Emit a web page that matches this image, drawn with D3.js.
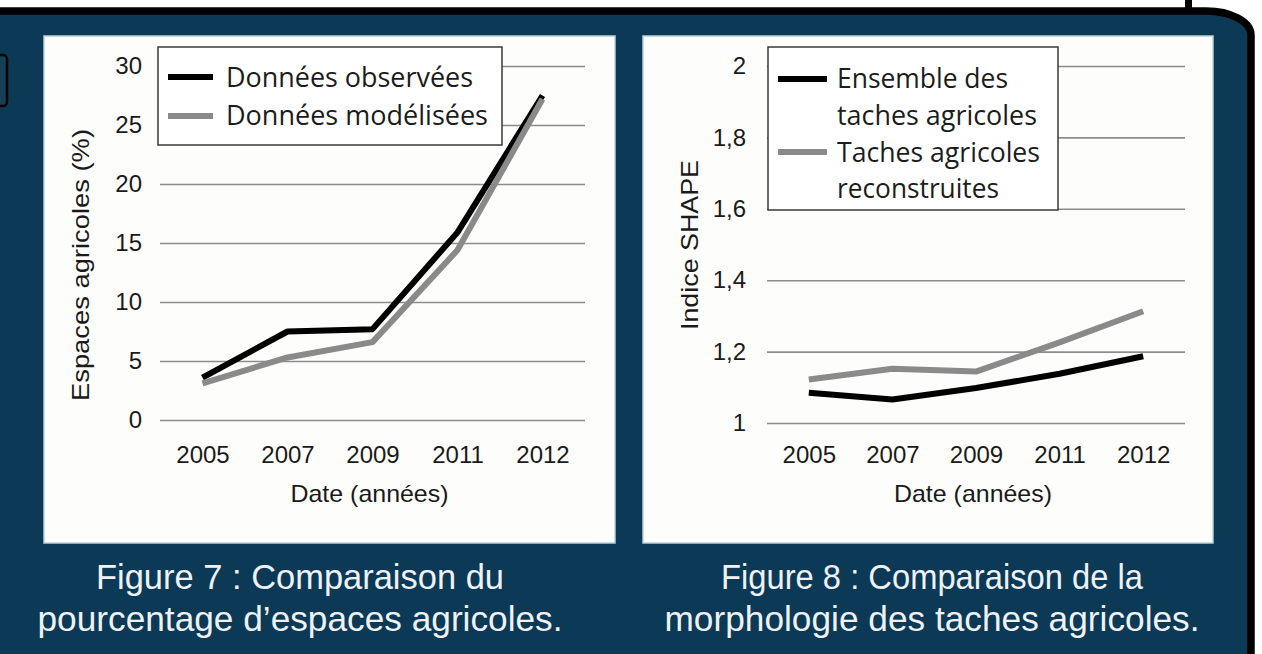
<!DOCTYPE html>
<html>
<head>
<meta charset="utf-8">
<script src="https://cdn.jsdelivr.net/npm/d3@7"></script>
<style>
  html, body { margin: 0; padding: 0; background: #ffffff; }
  svg { display: block; }
</style>
</head>
<body>
<svg id="fig" width="1262" height="654"></svg>
<script>
// Years shown on both charts
const years = ["2005", "2007", "2009", "2011", "2012"];

// Figure 7: share of agricultural land (%)
const observed = [3.6, 7.5, 7.7, 15.9, 27.5];
const modeled  = [3.1, 5.3, 6.6, 14.4, 27.2];
const pctTicks = [0, 5, 10, 15, 20, 25, 30];

// Figure 8: SHAPE index of agricultural patches
const allPatches     = [1.085, 1.066, 1.098, 1.138, 1.187];
const rebuiltPatches = [1.122, 1.152, 1.144, 1.226, 1.313];
const shapeTicks = [1, 1.2, 1.4, 1.6, 1.8, 2];

const svg = d3.select("#fig");
const NAVY = "#0b3956";
const AXIS_FONT = "'Liberation Sans', Arial, sans-serif";
const TEXT_FONT = "'Open Sans', 'Noto Sans', sans-serif";
const CAPTION_FONT = "'Liberation Sans', Arial, sans-serif";

// ---- Frame: navy board with black outline and rounded top-right corner
svg.append("rect").attr("x", 1185).attr("y", -2).attr("width", 7).attr("height", 13).attr("fill", "#000");
svg.append("path")
  .attr("d", "M -10 11 H 1206 A 45 24 0 0 1 1251 35 V 670 H -10 Z")
  .attr("fill", NAVY)
  .attr("stroke", "#000")
  .attr("stroke-width", 7.5);
// partial box at the left edge
svg.append("rect")
  .attr("x", -12).attr("y", 55).attr("width", 19).attr("height", 51).attr("rx", 4)
  .attr("fill", "#163f58").attr("stroke", "#050505").attr("stroke-width", 2.5);

// ---- One chart panel
function drawPanel(cfg) {
  const g = svg.append("g");
  g.append("rect")
    .attr("x", cfg.panel[0]).attr("y", cfg.panel[1])
    .attr("width", cfg.panel[2]).attr("height", cfg.panel[3])
    .attr("fill", "#fdfdfb").attr("stroke", "#b9cfdc").attr("stroke-width", 1.5);

  const x = d3.scalePoint().domain(years).range(cfg.xRange).padding(0.5);
  const y = d3.scaleLinear().domain(cfg.yDomain).range(cfg.yRange);
  const gridW = cfg.xRange[1] - cfg.xRange[0];

  // y axis with horizontal gridlines
  const yAxis = g.append("g")
    .attr("transform", `translate(${cfg.xRange[0]},0)`)
    .call(d3.axisLeft(y).tickValues(cfg.yTicks).tickSize(-gridW)
      .tickPadding(cfg.yPad).tickFormat(cfg.yFormat));
  yAxis.select(".domain").remove();
  yAxis.selectAll(".tick line").attr("stroke", "#8c8c8c").attr("stroke-width", 1.6);
  yAxis.selectAll(".tick text")
    .attr("font-family", AXIS_FONT).attr("font-size", 24).attr("fill", "#1a1a1a");

  // x axis labels, baseline kept at the same height on both panels
  const xAxis = g.append("g")
    .attr("transform", `translate(0,${cfg.yRange[0]})`)
    .call(d3.axisBottom(x).tickSize(0).tickPadding(463 - cfg.yRange[0] - 17));
  xAxis.select(".domain").remove();
  xAxis.selectAll(".tick text")
    .attr("font-family", AXIS_FONT).attr("font-size", 24).attr("fill", "#1a1a1a");

  // axis titles
  g.append("text")
    .attr("x", (cfg.xRange[0] + cfg.xRange[1]) / 2 - 3).attr("y", 502)
    .attr("text-anchor", "middle")
    .attr("font-family", AXIS_FONT).attr("font-size", 24).attr("fill", "#1a1a1a")
    .attr("textLength", 158).attr("lengthAdjust", "spacingAndGlyphs")
    .text("Date (années)");
  g.append("text")
    .attr("transform", `translate(${cfg.yTitle[0]},${cfg.yTitle[1]}) rotate(-90)`)
    .attr("text-anchor", "middle")
    .attr("font-family", AXIS_FONT).attr("font-size", 24).attr("fill", "#1a1a1a")
    .attr("textLength", cfg.yTitle[2]).attr("lengthAdjust", "spacingAndGlyphs")
    .text(cfg.yLabel);

  // series
  const line = d3.line().x((d, i) => x(years[i])).y(d => y(d));
  cfg.series.forEach(s => {
    g.append("path")
      .datum(s.values)
      .attr("d", line)
      .attr("fill", "none")
      .attr("stroke", s.color)
      .attr("stroke-width", 6)
      .attr("stroke-linejoin", "round");
  });

  // legend
  const L = cfg.legend;
  g.append("rect")
    .attr("x", L.box[0]).attr("y", L.box[1]).attr("width", L.box[2]).attr("height", L.box[3])
    .attr("fill", "#ffffff").attr("stroke", "#3a3a3a").attr("stroke-width", 1.5);
  cfg.series.forEach((s, i) => {
    g.append("line")
      .attr("x1", L.swatch[0]).attr("x2", L.swatch[1])
      .attr("y1", L.swatchY[i]).attr("y2", L.swatchY[i])
      .attr("stroke", s.color).attr("stroke-width", 6);
  });
  L.rows.forEach(r => {
    g.append("text")
      .attr("x", L.textX).attr("y", r.y)
      .attr("font-family", TEXT_FONT).attr("font-size", 27).attr("fill", "#1c1c1c")
      .attr("textLength", r.w).attr("lengthAdjust", "spacingAndGlyphs")
      .text(r.t);
  });

  // caption under the panel
  cfg.caption.forEach(c => {
    svg.append("text")
      .attr("x", c.x).attr("y", c.y)
      .attr("text-anchor", "middle")
      .attr("font-family", CAPTION_FONT).attr("font-size", 35).attr("fill", "#eef2f5")
      .attr("textLength", c.w).attr("lengthAdjust", "spacingAndGlyphs")
      .text(c.t);
  });
}

drawPanel({
  panel: [44, 36, 571, 507],
  xRange: [160, 585],
  yDomain: [0, 30], yRange: [420, 66], yTicks: pctTicks, yPad: 18,
  yFormat: d => d,
  yLabel: "Espaces agricoles (%)", yTitle: [89, 265, 272],
  series: [
    { values: observed, color: "#000000" },
    { values: modeled, color: "#8a8a8a" }
  ],
  legend: {
    box: [158, 47, 344, 98],
    swatch: [168, 213], swatchY: [77, 116], textX: 226,
    rows: [
      { t: "Données observées", y: 87, w: 247 },
      { t: "Données modélisées", y: 125, w: 262 }
    ]
  },
  caption: [
    { t: "Figure 7 : Comparaison du", x: 300, y: 589, w: 408 },
    { t: "pourcentage d’espaces agricoles.", x: 300, y: 631, w: 525 }
  ]
});

drawPanel({
  panel: [643, 36, 570, 507],
  xRange: [767, 1185],
  yDomain: [1, 2], yRange: [423, 66], yTicks: shapeTicks, yPad: 21,
  yFormat: d => String(d).replace(".", ","),
  yLabel: "Indice SHAPE", yTitle: [698, 245, 170],
  series: [
    { values: allPatches, color: "#000000" },
    { values: rebuiltPatches, color: "#8a8a8a" }
  ],
  legend: {
    box: [768, 47, 290, 163],
    swatch: [778, 827], swatchY: [79, 152], textX: 837,
    rows: [
      { t: "Ensemble des", y: 88, w: 171 },
      { t: "taches agricoles", y: 125, w: 200 },
      { t: "Taches agricoles", y: 162, w: 203 },
      { t: "reconstruites", y: 198, w: 162 }
    ]
  },
  caption: [
    { t: "Figure 8 : Comparaison de la", x: 932, y: 589, w: 422 },
    { t: "morphologie des taches agricoles.", x: 932, y: 631, w: 535 }
  ]
});
</script>
</body>
</html>
